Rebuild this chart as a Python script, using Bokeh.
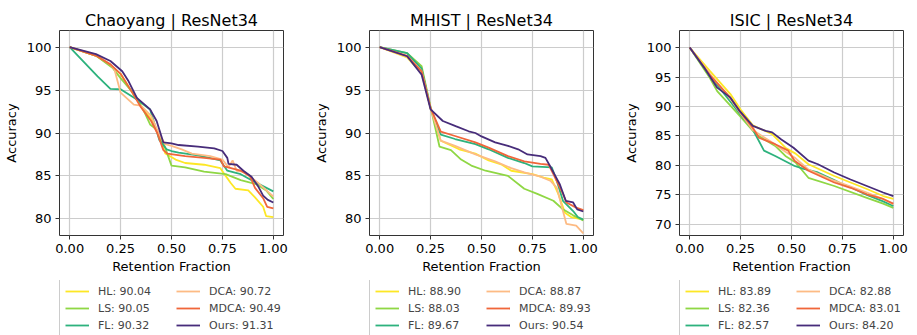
from bokeh.plotting import figure
from bokeh.layouts import row, column
from bokeh.models import Legend, LegendItem, FixedTicker, NumeralTickFormatter, Range1d
from bokeh.embed import file_html
from bokeh.resources import INLINE

methods = ["HL", "LS", "FL", "DCA", "MDCA", "Ours"]
colors = ["#fde725", "#8fd744", "#2db27d", "#fdbb84", "#f0663a", "#472c7a"]

# ---------------- Chaoyang ----------------
cy_title = "Chaoyang | ResNet34"
cy_scores = ["90.04", "90.05", "90.32", "90.72", "90.49", "91.31"]
cy_hl_x = [0, 0.13, 0.2, 0.25, 0.3, 0.35, 0.4, 0.44, 0.47, 0.52, 0.567, 0.66, 0.74, 0.766, 0.79, 0.814, 0.877, 0.91, 0.95, 0.965, 1.0]
cy_hl_y = [100, 99.0, 97.9, 96.9, 95.0, 93.2, 91.6, 89.6, 87.6, 86.9, 86.5, 86.3, 85.9, 85.0, 84.2, 83.5, 83.3, 82.5, 81.4, 80.3, 80.2]
cy_ls_x = [0, 0.13, 0.21, 0.25, 0.3, 0.33, 0.37, 0.395, 0.427, 0.46, 0.5, 0.567, 0.66, 0.766, 0.84, 0.92, 0.965, 1.0]
cy_ls_y = [100, 99.0, 97.6, 96.4, 95.0, 94.1, 92.3, 91.0, 90.4, 88.9, 86.2, 86.0, 85.5, 85.2, 84.5, 84.0, 83.3, 82.3]
cy_fl_x = [0, 0.137, 0.2, 0.25, 0.33, 0.395, 0.44, 0.476, 0.5, 0.535, 0.63, 0.74, 0.774, 0.84, 0.9, 1.0]
cy_fl_y = [100, 96.6, 95.15, 95.1, 93.9, 92.75, 89.2, 88.1, 87.9, 87.7, 87.4, 86.8, 85.6, 85.2, 84.4, 83.2]
cy_dca_x = [0, 0.13, 0.2, 0.22, 0.25, 0.315, 0.35, 0.4, 0.44, 0.47, 0.5, 0.55, 0.6, 0.69, 0.75, 0.78, 0.8, 0.82, 0.85, 0.92, 1.0]
cy_dca_y = [100, 99.1, 98.0, 97.4, 94.7, 93.3, 93.2, 92.0, 89.8, 88.7, 88.5, 88.1, 87.6, 87.3, 86.9, 86.0, 86.8, 85.6, 85.5, 84.3, 82.6]
cy_mdca_x = [0, 0.13, 0.2, 0.25, 0.3, 0.35, 0.4, 0.43, 0.46, 0.48, 0.567, 0.66, 0.74, 0.758, 0.84, 0.885, 0.91, 0.95, 0.97, 1.0]
cy_mdca_y = [100, 99.0, 98.0, 96.9, 95.0, 93.0, 91.4, 90.0, 88.0, 87.6, 87.3, 87.1, 86.9, 86.1, 85.6, 85.0, 83.6, 82.4, 81.4, 81.2]
cy_ours_x = [0, 0.129, 0.2, 0.258, 0.29, 0.33, 0.395, 0.427, 0.46, 0.5, 0.535, 0.63, 0.71, 0.75, 0.774, 0.78, 0.82, 0.853, 0.893, 0.925, 0.95, 0.973, 1.0]
cy_ours_y = [100, 99.2, 98.4, 97.2, 96.0, 94.1, 92.75, 91.4, 88.9, 88.8, 88.6, 88.4, 88.2, 87.9, 87.1, 86.4, 86.3, 85.6, 84.9, 83.8, 82.7, 82.2, 81.9]

# ---------------- MHIST ----------------
mh_title = "MHIST | ResNet34"
mh_scores = ["88.90", "88.03", "89.67", "88.87", "89.93", "90.54"]
mh_hl_x = [0, 0.135, 0.206, 0.25, 0.3, 0.39, 0.47, 0.535, 0.6, 0.646, 0.75, 0.806, 0.845, 0.877, 0.91, 0.94, 1.0]
mh_hl_y = [100, 98.8, 97.0, 92.9, 89.1, 88.1, 87.6, 86.8, 86.3, 85.6, 85.2, 84.8, 84.6, 82.9, 80.7, 80.2, 79.9]
mh_ls_x = [0, 0.135, 0.206, 0.25, 0.294, 0.35, 0.4, 0.45, 0.52, 0.63, 0.71, 0.774, 0.853, 0.9, 0.95, 1.0]
mh_ls_y = [100, 99.3, 97.8, 93.0, 88.4, 88.0, 86.9, 86.2, 85.6, 85.0, 83.5, 82.9, 82.1, 81.1, 80.4, 79.8]
mh_fl_x = [0, 0.135, 0.206, 0.25, 0.3, 0.37, 0.47, 0.535, 0.63, 0.71, 0.75, 0.845, 0.87, 0.9, 0.95, 0.973, 1.0]
mh_fl_y = [100, 99.3, 97.5, 92.9, 89.8, 89.3, 88.7, 88.1, 87.1, 86.5, 86.1, 86.0, 84.4, 82.1, 80.9, 80.2, 79.9]
mh_dca_x = [0, 0.135, 0.206, 0.25, 0.3, 0.37, 0.47, 0.567, 0.646, 0.71, 0.79, 0.84, 0.87, 0.9, 0.917, 0.965, 1.0]
mh_dca_y = [100, 98.9, 97.2, 92.9, 89.1, 88.5, 87.5, 86.7, 85.9, 85.4, 84.9, 84.4, 83.6, 80.9, 79.4, 79.2, 78.3]
mh_mdca_x = [0, 0.135, 0.206, 0.25, 0.3, 0.37, 0.47, 0.535, 0.63, 0.71, 0.79, 0.83, 0.853, 0.9, 0.917, 0.965, 1.0]
mh_mdca_y = [100, 99.0, 97.2, 92.9, 90.15, 89.65, 88.9, 88.3, 87.3, 86.7, 86.4, 86.3, 85.2, 82.9, 81.9, 81.3, 81.0]
mh_ours_x = [0, 0.135, 0.206, 0.25, 0.31, 0.373, 0.437, 0.47, 0.5, 0.567, 0.63, 0.68, 0.726, 0.79, 0.814, 0.84, 0.885, 0.914, 0.95, 0.97, 1.0]
mh_ours_y = [100, 98.95, 96.8, 92.75, 91.4, 90.8, 90.2, 90.0, 89.6, 88.9, 88.5, 88.1, 87.5, 87.3, 87.1, 86.0, 84.0, 82.1, 81.9, 81.1, 80.85]

# ---------------- ISIC ----------------
is_title = "ISIC | ResNet34"
is_scores = ["83.89", "82.36", "82.57", "82.88", "83.01", "84.20"]
is_hl_x = [0, 0.1, 0.2, 0.25, 0.31, 0.405, 0.47, 0.52, 0.583, 0.71, 0.79, 0.87, 0.95, 1.0]
is_hl_y = [100, 96.0, 92.1, 89.5, 86.8, 85.3, 83.0, 82.0, 80.2, 78.2, 77.1, 76.0, 74.8, 74.3]
is_ls_x = [0, 0.1, 0.135, 0.246, 0.325, 0.42, 0.47, 0.52, 0.583, 0.71, 0.87, 0.95, 1.0]
is_ls_y = [100, 94.8, 92.6, 88.4, 85.3, 83.3, 81.6, 80.5, 77.9, 76.5, 74.5, 73.5, 72.8]
is_fl_x = [0, 0.1, 0.2, 0.25, 0.31, 0.365, 0.42, 0.515, 0.56, 0.63, 0.71, 0.75, 0.79, 0.87, 0.95, 1.0]
is_fl_y = [100, 95.2, 90.8, 88.6, 86.1, 82.5, 81.6, 79.9, 79.4, 78.8, 77.5, 76.8, 76.3, 75.0, 73.9, 73.1]
is_dca_x = [0, 0.1, 0.2, 0.25, 0.31, 0.4, 0.47, 0.52, 0.583, 0.71, 0.87, 0.95, 1.0]
is_dca_y = [100, 95.5, 91.3, 88.8, 86.0, 84.0, 82.3, 81.2, 79.3, 77.4, 75.4, 74.3, 73.4]
is_mdca_x = [0, 0.1, 0.2, 0.25, 0.31, 0.34, 0.42, 0.484, 0.515, 0.583, 0.71, 0.79, 0.87, 0.95, 1.0]
is_mdca_y = [100, 95.3, 91.5, 89.0, 86.4, 84.7, 83.6, 82.5, 80.8, 79.1, 77.1, 76.2, 75.1, 74.3, 73.5]
is_ours_x = [0, 0.071, 0.135, 0.2, 0.246, 0.31, 0.373, 0.405, 0.45, 0.51, 0.583, 0.63, 0.71, 0.79, 0.87, 0.95, 1.0]
is_ours_y = [100, 96.6, 93.2, 91.5, 89.2, 86.7, 85.85, 85.6, 84.4, 83.0, 80.8, 80.2, 78.8, 77.6, 76.5, 75.4, 74.8]

x_ticks = [0, 0.25, 0.5, 0.75, 1.0]
y_ticks_a = [80, 85, 90, 95, 100]
y_ticks_b = [70, 75, 80, 85, 90, 95, 100]

FONT = "DejaVu Sans"
NAN = float("nan")


def make_panel(title, series, scores, yrange, yticks, width, right_border):
    p = figure(width=width, height=273,
               x_range=Range1d(-0.05, 1.05), y_range=Range1d(*yrange),
               output_backend="svg", toolbar_location=None,
               min_border_left=53, min_border_right=right_border,
               min_border_top=15, min_border_bottom=45,
               background_fill_color="white", border_fill_color="white")
    p.margin = (7, 0, 0, 0)
    p.title.text = title
    p.title.align = "center"
    p.title.text_font = FONT
    p.title.text_font_size = "16px"
    p.title.text_font_style = "normal"
    p.title.text_color = "black"
    p.title.standoff = 2

    p.outline_line_color = "#333333"
    p.outline_line_width = 1
    for ax in (p.xaxis[0], p.yaxis[0]):
        ax.axis_line_color = None
        ax.major_tick_line_color = "#333333"
        ax.major_tick_out = 4
        ax.major_tick_in = 0
        ax.minor_tick_line_color = None
        ax.major_label_text_font = FONT
        ax.major_label_text_font_size = "13px"
        ax.major_label_text_color = "black"
        ax.axis_label_text_font = FONT
        ax.axis_label_text_font_size = "13px"
        ax.axis_label_text_font_style = "normal"
        ax.axis_label_text_color = "black"
        ax.major_label_standoff = 4
    p.xaxis[0].axis_label_standoff = 3
    p.yaxis[0].axis_label_standoff = 5
    p.xaxis[0].ticker = FixedTicker(ticks=x_ticks)
    p.xaxis[0].formatter = NumeralTickFormatter(format="0.00")
    p.yaxis[0].ticker = FixedTicker(ticks=yticks)
    p.xaxis[0].axis_label = "Retention Fraction"
    p.yaxis[0].axis_label = "Accuracy"
    p.grid.grid_line_color = "#cccccc"
    p.grid.grid_line_width = 1.2

    # legend lives in its own strip below the axes (frame aligned with the axes)
    lf = figure(width=width, height=58, x_range=Range1d(0, 1), y_range=Range1d(0, 1),
                output_backend="svg", toolbar_location=None,
                x_axis_location=None, y_axis_location=None,
                min_border_left=53, min_border_right=right_border,
                min_border_top=0, min_border_bottom=0,
                outline_line_color=None,
                background_fill_color="white", border_fill_color="white")
    lf.grid.visible = False

    items = []
    for name, color, (xs, ys), sc in zip(methods, colors, series, scores):
        p.line(xs, ys, line_color=color, line_width=1.8)
        lr = lf.line(x=[NAN], y=[NAN], line_color=color, line_width=1.8)
        items.append(LegendItem(label=f"{name}: {sc}", renderers=[lr]))

    leg = Legend(items=items, orientation="vertical", ncols=2,
                 location=(0, 0), margin=0,
                 label_text_font=FONT, label_text_font_size="11px",
                 label_text_align="left",
                 label_height=14, glyph_height=14, glyph_width=24,
                 label_standoff=9, label_width=75, spacing=3, padding=5,
                 border_line_color="#999999", border_line_width=1,
                 background_fill_color="white", background_fill_alpha=1.0)
    lf.add_layout(leg)
    return column(p, lf, spacing=0)


c1 = make_panel(cy_title,
                [(cy_hl_x, cy_hl_y), (cy_ls_x, cy_ls_y), (cy_fl_x, cy_fl_y),
                 (cy_dca_x, cy_dca_y), (cy_mdca_x, cy_mdca_y), (cy_ours_x, cy_ours_y)],
                cy_scores, (78.05, 101.95), y_ticks_a, 310, 27)
c2 = make_panel(mh_title,
                [(mh_hl_x, mh_hl_y), (mh_ls_x, mh_ls_y), (mh_fl_x, mh_fl_y),
                 (mh_dca_x, mh_dca_y), (mh_mdca_x, mh_mdca_y), (mh_ours_x, mh_ours_y)],
                mh_scores, (78.05, 101.95), y_ticks_a, 310, 27)
c3 = make_panel(is_title,
                [(is_hl_x, is_hl_y), (is_ls_x, is_ls_y), (is_fl_x, is_fl_y),
                 (is_dca_x, is_dca_y), (is_mdca_x, is_mdca_y), (is_ours_x, is_ours_y)],
                is_scores, (68.1, 102.9), y_ticks_b, 289, 6)

layout = row(c1, c2, c3, spacing=0)
open("out.html", "w").write(file_html(layout, INLINE))
